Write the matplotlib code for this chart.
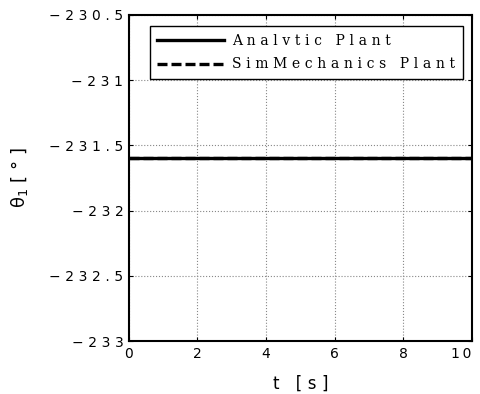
import matplotlib
matplotlib.use("Agg")
import matplotlib.pyplot as plt

# Joint angle theta_1 over the simulation, both plant models
t = [0.0, 2.0, 4.0, 6.0, 8.0, 10.0]
theta_analytic = [-231.6, -231.6, -231.6, -231.6, -231.6, -231.6]
theta_simmech = [-231.6, -231.6, -231.6, -231.6, -231.6, -231.6]

xticks = [0, 2, 4, 6, 8, 10]
yticks = [-233.0, -232.5, -232.0, -231.5, -231.0, -230.5]
xtick_labels = ["0", "2", "4", "6", "8", "10"]
ytick_labels = ["\u2212233", "\u2212232.5", "\u2212232", "\u2212231.5", "\u2212231", "\u2212230.5"]
legend_labels = ["Analvtic Plant", "SimMechanics Plant"]

GAP = "\u2004"  # three-per-em space between characters


def spaced(s, gap=GAP):
    # old-style plot export: every character spread out
    return gap.join(s)


fig = plt.figure(figsize=(4.81, 3.94), dpi=100)
ax = fig.add_axes([0.268, 0.1345, 0.713, 0.8275])

ax.plot(t, theta_analytic, color="black", lw=2.4, ls="-", label=spaced(legend_labels[0]))
ax.plot(t, theta_simmech, color="black", lw=2.4, ls=(0, (3, 1.2)), label=spaced(legend_labels[1]))

ax.set_xlim(0, 10)
ax.set_ylim(-233, -230.5)
ax.set_xticks(xticks)
ax.set_xticklabels([spaced(s, "\u2009") for s in xtick_labels], family="DejaVu Sans", fontsize=10)
ax.get_xticklabels()[-1].set_horizontalalignment("right")
ax.get_xticklabels()[-1].set_x(10.15)
ax.set_yticks(yticks)
ax.set_yticklabels([spaced(s) for s in ytick_labels], family="DejaVu Sans", fontsize=10)
ax.tick_params(direction="in", length=3, width=0.8, top=True, right=True, pad=4)

ax.grid(True, color="#888888", ls=":", lw=0.8)
for side in ax.spines.values():
    side.set_linewidth(1.5)

ax.set_xlabel(spaced("t [s]"), family="DejaVu Sans", fontsize=12, labelpad=10)
ax.set_ylabel("\u03b8$_1$ " + spaced("[\u00b0]"), family="DejaVu Sans", fontsize=13, labelpad=14)

leg = ax.legend(loc="upper right", bbox_to_anchor=(0.974, 0.966), borderaxespad=0,
                prop={"family": "DejaVu Serif", "size": 10},
                fancybox=False, framealpha=1, edgecolor="black", handlelength=4.8,
                handletextpad=0.6, borderpad=0.55, labelspacing=0.7)
leg.get_frame().set_linewidth(1.0)

fig.savefig("out.png", dpi=100)
